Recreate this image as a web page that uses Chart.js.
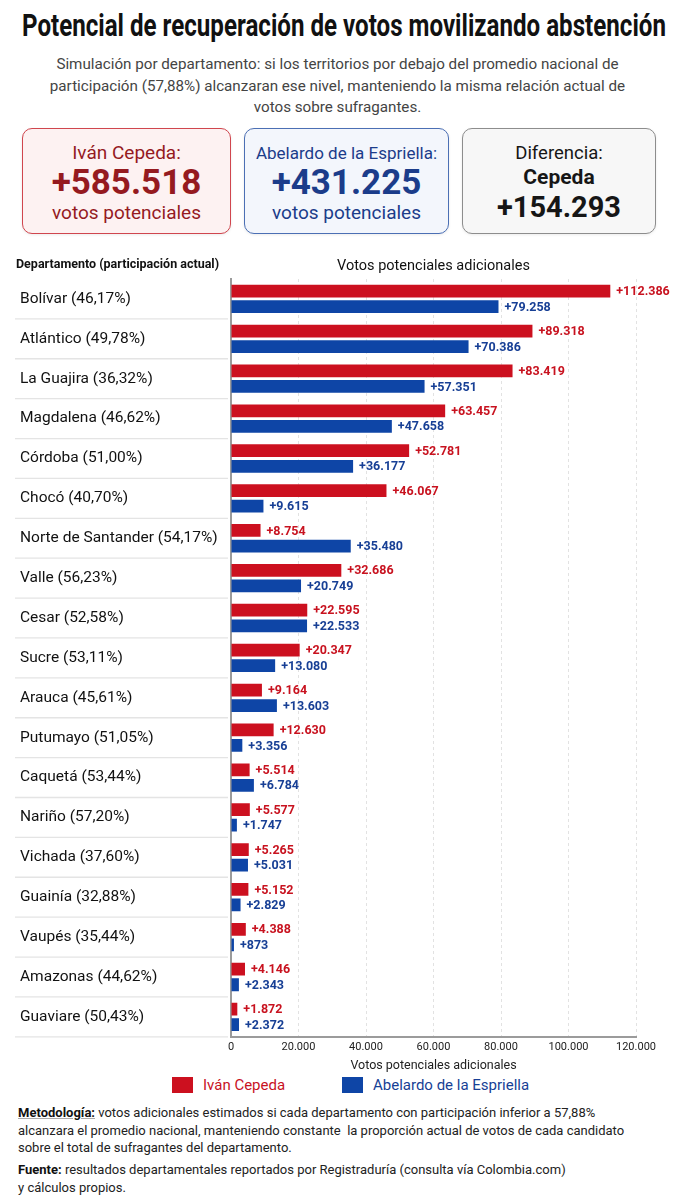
<!DOCTYPE html>
<html lang="es">
<head>
<meta charset="utf-8">
<title>Potencial de recuperación de votos movilizando abstención</title>
<script src="https://cdn.jsdelivr.net/npm/chart.js@4.4.1/dist/chart.umd.min.js"></script>
<style>
  body {
    margin: 0;
    width: 675px;
    height: 1200px;
    position: relative;
    overflow: hidden;
    background: #fff;
    color: #222;
    font-family: Roboto, "Noto Sans", sans-serif;
  }
  .abs { position: absolute; }
  #title {
    position: absolute;
    top: 8px;
    left: 22px;
    font-size: 32px;
    line-height: 34px;
    font-weight: bold;
    color: #111;
    white-space: nowrap;
    transform-origin: left center;
  }
  #subtitle {
    top: 54px; left: 0; width: 675px;
    text-align: center;
    font-size: 15.2px;
    line-height: 21.5px;
    color: #444;
  }
  .card {
    top: 128px;
    height: 104px;
    border-radius: 10px;
    border: 1.5px solid;
    text-align: center;
    box-shadow: 0 1px 3px rgba(0,0,0,0.08);
  }
  .card div { position: absolute; left: 0; right: 0; white-space: nowrap; }
  #card1 { left: 22px; width: 207px; background: #fdf2f2; border-color: #d0464e; color: #951a1f; }
  #card2 { left: 244px; width: 203px; background: #f3f6fc; border-color: #4b6fb4; color: #1b3c8a; }
  #card3 { left: 462px; width: 192px; background: #f7f7f7; border-color: #8d8d8d; color: #161616; }
  .lbl { top: 12px; font-size: 19px; line-height: 24px; }
  .big { top: 34px; font-size: 35px; line-height: 40px; font-weight: bold; }
  .sub { top: 72px; font-size: 19px; line-height: 24px; }
  #card2 .lbl { font-size: 17px; }
  #card3 .lbl { font-size: 18.5px; }
  #card3 .name { top: 35px; font-size: 21px; line-height: 26px; font-weight: bold; }
  #card3 .diff { top: 60px; font-size: 29px; line-height: 36px; font-weight: bold; }
  #chartBox { top: 245px; left: 0; width: 675px; height: 830px; }
  #legend { top: 1076px; left: 0; width: 675px; height: 18px; font-size: 15px; }
  .key { position: absolute; top: 0; height: 18px; line-height: 18px; white-space: nowrap; }
  .key span { display: inline-block; width: 21px; height: 16px; margin-right: 10px; vertical-align: -3px; }
  #footer {
    top: 1104px; left: 18px; width: 655px;
    font-size: 13px;
    line-height: 17.5px;
    color: #222;
  }
  #footer p { margin: 0 0 4.5px 0; white-space: nowrap; }
  #footer b { color: #111; }
  #footer .u { text-decoration: underline; text-decoration-color: #aaa; }
</style>
</head>
<body>

<span id="title">Potencial de recuperación de votos movilizando abstención</span>
<div id="subtitle" class="abs">
  Simulación por departamento: si los territorios por debajo del promedio nacional de<br>
  participación (57,88%) alcanzaran ese nivel, manteniendo la misma relación actual de<br>
  votos sobre sufragantes.
</div>

<div id="card1" class="card abs">
  <div class="lbl">Iván Cepeda:</div>
  <div class="big" id="totCepeda"></div>
  <div class="sub">votos potenciales</div>
</div>
<div id="card2" class="card abs">
  <div class="lbl">Abelardo de la Espriella:</div>
  <div class="big" id="totEspriella"></div>
  <div class="sub">votos potenciales</div>
</div>
<div id="card3" class="card abs">
  <div class="lbl">Diferencia:</div>
  <div class="name">Cepeda</div>
  <div class="diff" id="totDiff"></div>
</div>

<div id="chartBox" class="abs"><canvas id="chart"></canvas></div>

<div id="legend" class="abs">
  <div class="key" style="left:172px;color:#c8121f"><span style="background:#cc101f"></span>Iván Cepeda</div>
  <div class="key" style="left:342px;color:#173f95"><span style="background:#0e45a6"></span>Abelardo de la Espriella</div>
</div>

<div id="footer" class="abs">
  <p><b class="u">Metodología:</b> votos adicionales estimados si cada departamento con participación inferior a 57,88%<br>
  alcanzara el promedio nacional, manteniendo constante &nbsp;la proporción actual de votos de cada candidato<br>
  sobre el total de sufragantes del departamento.</p>
  <p><b>Fuente:</b> resultados departamentales reportados por Registraduría (consulta vía Colombia.com)<br>
  y cálculos propios.</p>
</div>

<script>
// Data
const departamentos = ['Bolívar', 'Atlántico', 'La Guajira', 'Magdalena', 'Córdoba', 'Chocó',
  'Norte de Santander', 'Valle', 'Cesar', 'Sucre', 'Arauca', 'Putumayo', 'Caquetá', 'Nariño',
  'Vichada', 'Guainía', 'Vaupés', 'Amazonas', 'Guaviare'];
const participacion = ['46,17%', '49,78%', '36,32%', '46,62%', '51,00%', '40,70%',
  '54,17%', '56,23%', '52,58%', '53,11%', '45,61%', '51,05%', '53,44%', '57,20%',
  '37,60%', '32,88%', '35,44%', '44,62%', '50,43%'];
const cepeda = [112386, 89318, 83419, 63457, 52781, 46067, 8754, 32686, 22595, 20347,
  9164, 12630, 5514, 5577, 5265, 5152, 4388, 4146, 1872];
const espriella = [79258, 70386, 57351, 47658, 36177, 9615, 35480, 20749, 22533, 13080,
  13603, 3356, 6784, 1747, 5031, 2829, 873, 2343, 2372];
const xMin = 0;
const xMax = 120000;
const xStep = 20000;

const FONT = 'Roboto, "Noto Sans", sans-serif';
const BAR_COLORS = ['#cc101f', '#0e45a6'];
const LABEL_COLORS = ['#c8121f', '#173f95'];

// thousands with dots, as in the picture (5.514, 873)
function fmt(v) {
  return String(v).replace(/\B(?=(\d{3})+(?!\d))/g, '.');
}

// Card totals
const sum = arr => arr.reduce((a, b) => a + b, 0);
document.getElementById('totCepeda').textContent = '+' + fmt(sum(cepeda));
document.getElementById('totEspriella').textContent = '+' + fmt(sum(espriella));
document.getElementById('totDiff').textContent = '+' + fmt(sum(cepeda) - sum(espriella));

// Squeeze the title to the width used in the picture (x 22..666)
const title = document.getElementById('title');
title.style.transform = 'scaleX(' + (644 / title.offsetWidth) + ')';

// Headers above the plot
const headers = {
  id: 'headers',
  afterDraw(chart) {
    const ctx = chart.ctx;
    const area = chart.chartArea;
    ctx.save();
    ctx.textBaseline = 'middle';
    ctx.fillStyle = '#111';
    ctx.font = 'bold 12.5px ' + FONT;
    ctx.textAlign = 'left';
    ctx.fillText('Departamento (participación actual)', 16, 20);
    ctx.font = '14.5px ' + FONT;
    ctx.textAlign = 'center';
    ctx.fillText('Votos potenciales adicionales', (area.left + area.right) / 2, 21);
    ctx.restore();
  }
};

// Light lines under each department name
const rowLines = {
  id: 'rowLines',
  beforeDatasetsDraw(chart) {
    const ctx = chart.ctx;
    const y = chart.scales.y;
    const n = chart.data.labels.length;
    ctx.save();
    ctx.strokeStyle = '#e4e4e4';
    ctx.lineWidth = 1.3;
    for (let i = 0; i < n; i++) {
      const yy = i < n - 1 ? (y.getPixelForValue(i) + y.getPixelForValue(i + 1)) / 2 : chart.chartArea.bottom;
      ctx.beginPath();
      ctx.moveTo(15, yy);
      ctx.lineTo(228, yy);
      ctx.stroke();
    }
    ctx.restore();
  }
};

// "+value" at the end of every bar
const valueLabels = {
  id: 'valueLabels',
  afterDatasetsDraw(chart) {
    const ctx = chart.ctx;
    ctx.save();
    ctx.font = 'bold 12.5px ' + FONT;
    ctx.textBaseline = 'middle';
    ctx.textAlign = 'left';
    chart.data.datasets.forEach((ds, di) => {
      ctx.fillStyle = LABEL_COLORS[di];
      chart.getDatasetMeta(di).data.forEach((bar, i) => {
        ctx.fillText('+' + fmt(ds.data[i]), bar.x + 6, bar.y + 1);
      });
    });
    ctx.restore();
  }
};

const ctx = document.getElementById('chart').getContext('2d');
new Chart(ctx, {
  type: 'bar',
  data: {
    labels: departamentos.map((d, i) => d + ' (' + participacion[i] + ')'),
    datasets: [{
      label: 'Iván Cepeda',
      data: cepeda,
      backgroundColor: BAR_COLORS[0],
      categoryPercentage: 0.78,
      barPercentage: 0.82
    }, {
      label: 'Abelardo de la Espriella',
      data: espriella,
      backgroundColor: BAR_COLORS[1],
      categoryPercentage: 0.78,
      barPercentage: 0.82
    }]
  },
  options: {
    indexAxis: 'y',
    responsive: true,
    maintainAspectRatio: false,
    animation: false,
    layout: {
      padding: { top: 34, left: 20, right: 39, bottom: 2 }
    },
    plugins: {
      legend: { display: false },
      tooltip: { enabled: false }
    },
    scales: {
      x: {
        min: xMin,
        max: xMax,
        grid: {
          drawTicks: false,
          color: c => (c.tick && c.tick.value === 0 ? 'rgba(0,0,0,0)' : '#e2e2e2'),
          lineWidth: 1
        },
        border: { display: true, color: '#9b9b9b', width: 2, dash: [3, 3] },
        ticks: {
          stepSize: xStep,
          padding: 4,
          color: '#222',
          font: { family: FONT, size: 11, lineHeight: 1.2 },
          callback: v => fmt(v)
        },
        title: {
          display: true,
          text: 'Votos potenciales adicionales',
          color: '#222',
          padding: { top: 0, bottom: 0 },
          font: { family: FONT, size: 12.5 }
        }
      },
      y: {
        afterFit: scale => { scale.width = 211; },
        grid: { display: false },
        border: { display: true, color: '#9b9b9b', width: 2 },
        ticks: {
          crossAlign: 'far',
          color: '#111',
          font: { family: FONT, size: 15.5 }
        }
      }
    }
  },
  plugins: [headers, rowLines, valueLabels]
});
</script>
</body>
</html>
